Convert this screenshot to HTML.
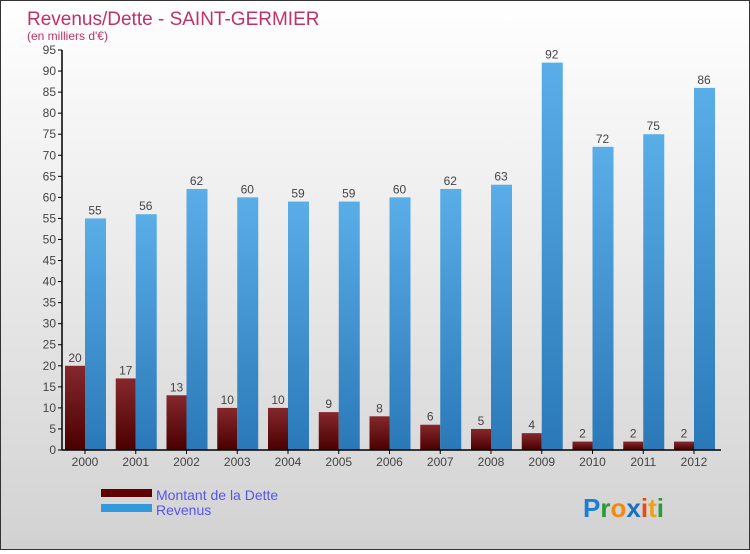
<!DOCTYPE html>
<html><head><meta charset="utf-8"><style>
body{margin:0;width:750px;height:550px;overflow:hidden;font-family:"Liberation Sans",sans-serif}
#c{position:absolute;left:0;top:0;width:748px;height:548px;border:1px solid #333;background:linear-gradient(#ffffff,#d2d2d2)}
</style></head><body>
<div id="c">
<svg width="748" height="548" xmlns="http://www.w3.org/2000/svg">
<defs>
<linearGradient id="gd" x1="0" y1="0" x2="0" y2="1"><stop offset="0" stop-color="#85282c"/><stop offset="1" stop-color="#4a0000"/></linearGradient>
<linearGradient id="gb" x1="0" y1="0" x2="0" y2="1"><stop offset="0" stop-color="#5aaee8"/><stop offset="1" stop-color="#2a78b8"/></linearGradient>
</defs>
<text x="26" y="24" font-size="19" fill="#c0306a">Revenus/Dette - SAINT-GERMIER</text>
<text x="26" y="39" font-size="12" fill="#c0306a">(en milliers d'€)</text>
<g id="plot"></g>
<g>
<rect x="100" y="488" width="51" height="8" fill="#600000"/>
<text x="155" y="499" font-size="14" fill="#5555ee">Montant de la Dette</text>
<rect x="100" y="503" width="51" height="8" fill="#3399dd"/>
<text x="155" y="514" font-size="14" fill="#5555ee">Revenus</text>
</g>
<g font-size="26" font-weight="bold">
<text x="582" y="516"><tspan fill="#1a7fd4">P</tspan><tspan fill="#2a9a3a">r</tspan><tspan fill="#f08a10">o</tspan><tspan fill="#1a6fc4">x</tspan><tspan fill="#e84a10">i</tspan><tspan fill="#f0a010">t</tspan><tspan fill="#2a9a3a">i</tspan></text>
</g>
</svg>
</div>
<script>
const years=["2000","2001","2002","2003","2004","2005","2006","2007","2008","2009","2010","2011","2012"];
const dette=[20,17,13,10,10,9,8,6,5,4,2,2,2];
const revenus=[55,56,62,60,59,59,60,62,63,92,72,75,86];
const yTicks=[0,5,10,15,20,25,30,35,40,45,50,55,60,65,70,75,80,85,90,95];
const NS="http://www.w3.org/2000/svg";
const g=document.getElementById('plot');
const y0=449,yTop=49,yMax=95;
const ys=v=>y0-(v/yMax)*(y0-yTop);
const xs=i=>64+i*50.75;
function el(t,a,txt){const e=document.createElementNS(NS,t);for(const k in a)e.setAttribute(k,a[k]);if(txt!==undefined)e.textContent=txt;g.appendChild(e);return e;}
yTicks.forEach(t=>{
 const l=el('line',{x1:57,x2:61,y1:ys(t),y2:ys(t),stroke:'#000'});
 
 
 const tx=el('text',{x:55,y:ys(t)+4,'font-size':12,'text-anchor':'end',fill:'#444'},t);
 
 
});
years.forEach((yr,i)=>{
 const x=xs(i);
 const b1=el('rect',{x:x,y:ys(dette[i]),width:20,height:y0-ys(dette[i]),fill:'url(#gd)'});
 
 
 const b2=el('rect',{x:x+20,y:ys(revenus[i]),width:21,height:y0-ys(revenus[i]),fill:'url(#gb)'});
 
 
 const v1=el('text',{x:x+10,y:ys(dette[i])-4,'font-size':12,'text-anchor':'middle',fill:'#444'},dette[i]);
 
 
 const v2=el('text',{x:x+30,y:ys(revenus[i])-4,'font-size':12,'text-anchor':'middle',fill:'#444'},revenus[i]);
 
 
 const tk=el('line',{x1:x+20,x2:x+20,y1:y0,y2:y0+4,stroke:'#000'});
 
 
 const lb=el('text',{x:x+20,y:y0+16,'font-size':12,'text-anchor':'middle',fill:'#444'},yr);
 
 
});
const ya=el('line',{x1:61,x2:61,y1:yTop,y2:y0,stroke:'#000','stroke-width':1.5});


const xa=el('line',{x1:61,x2:720,y1:y0,y2:y0,stroke:'#000','stroke-width':1.5});


</script>
</body></html>
